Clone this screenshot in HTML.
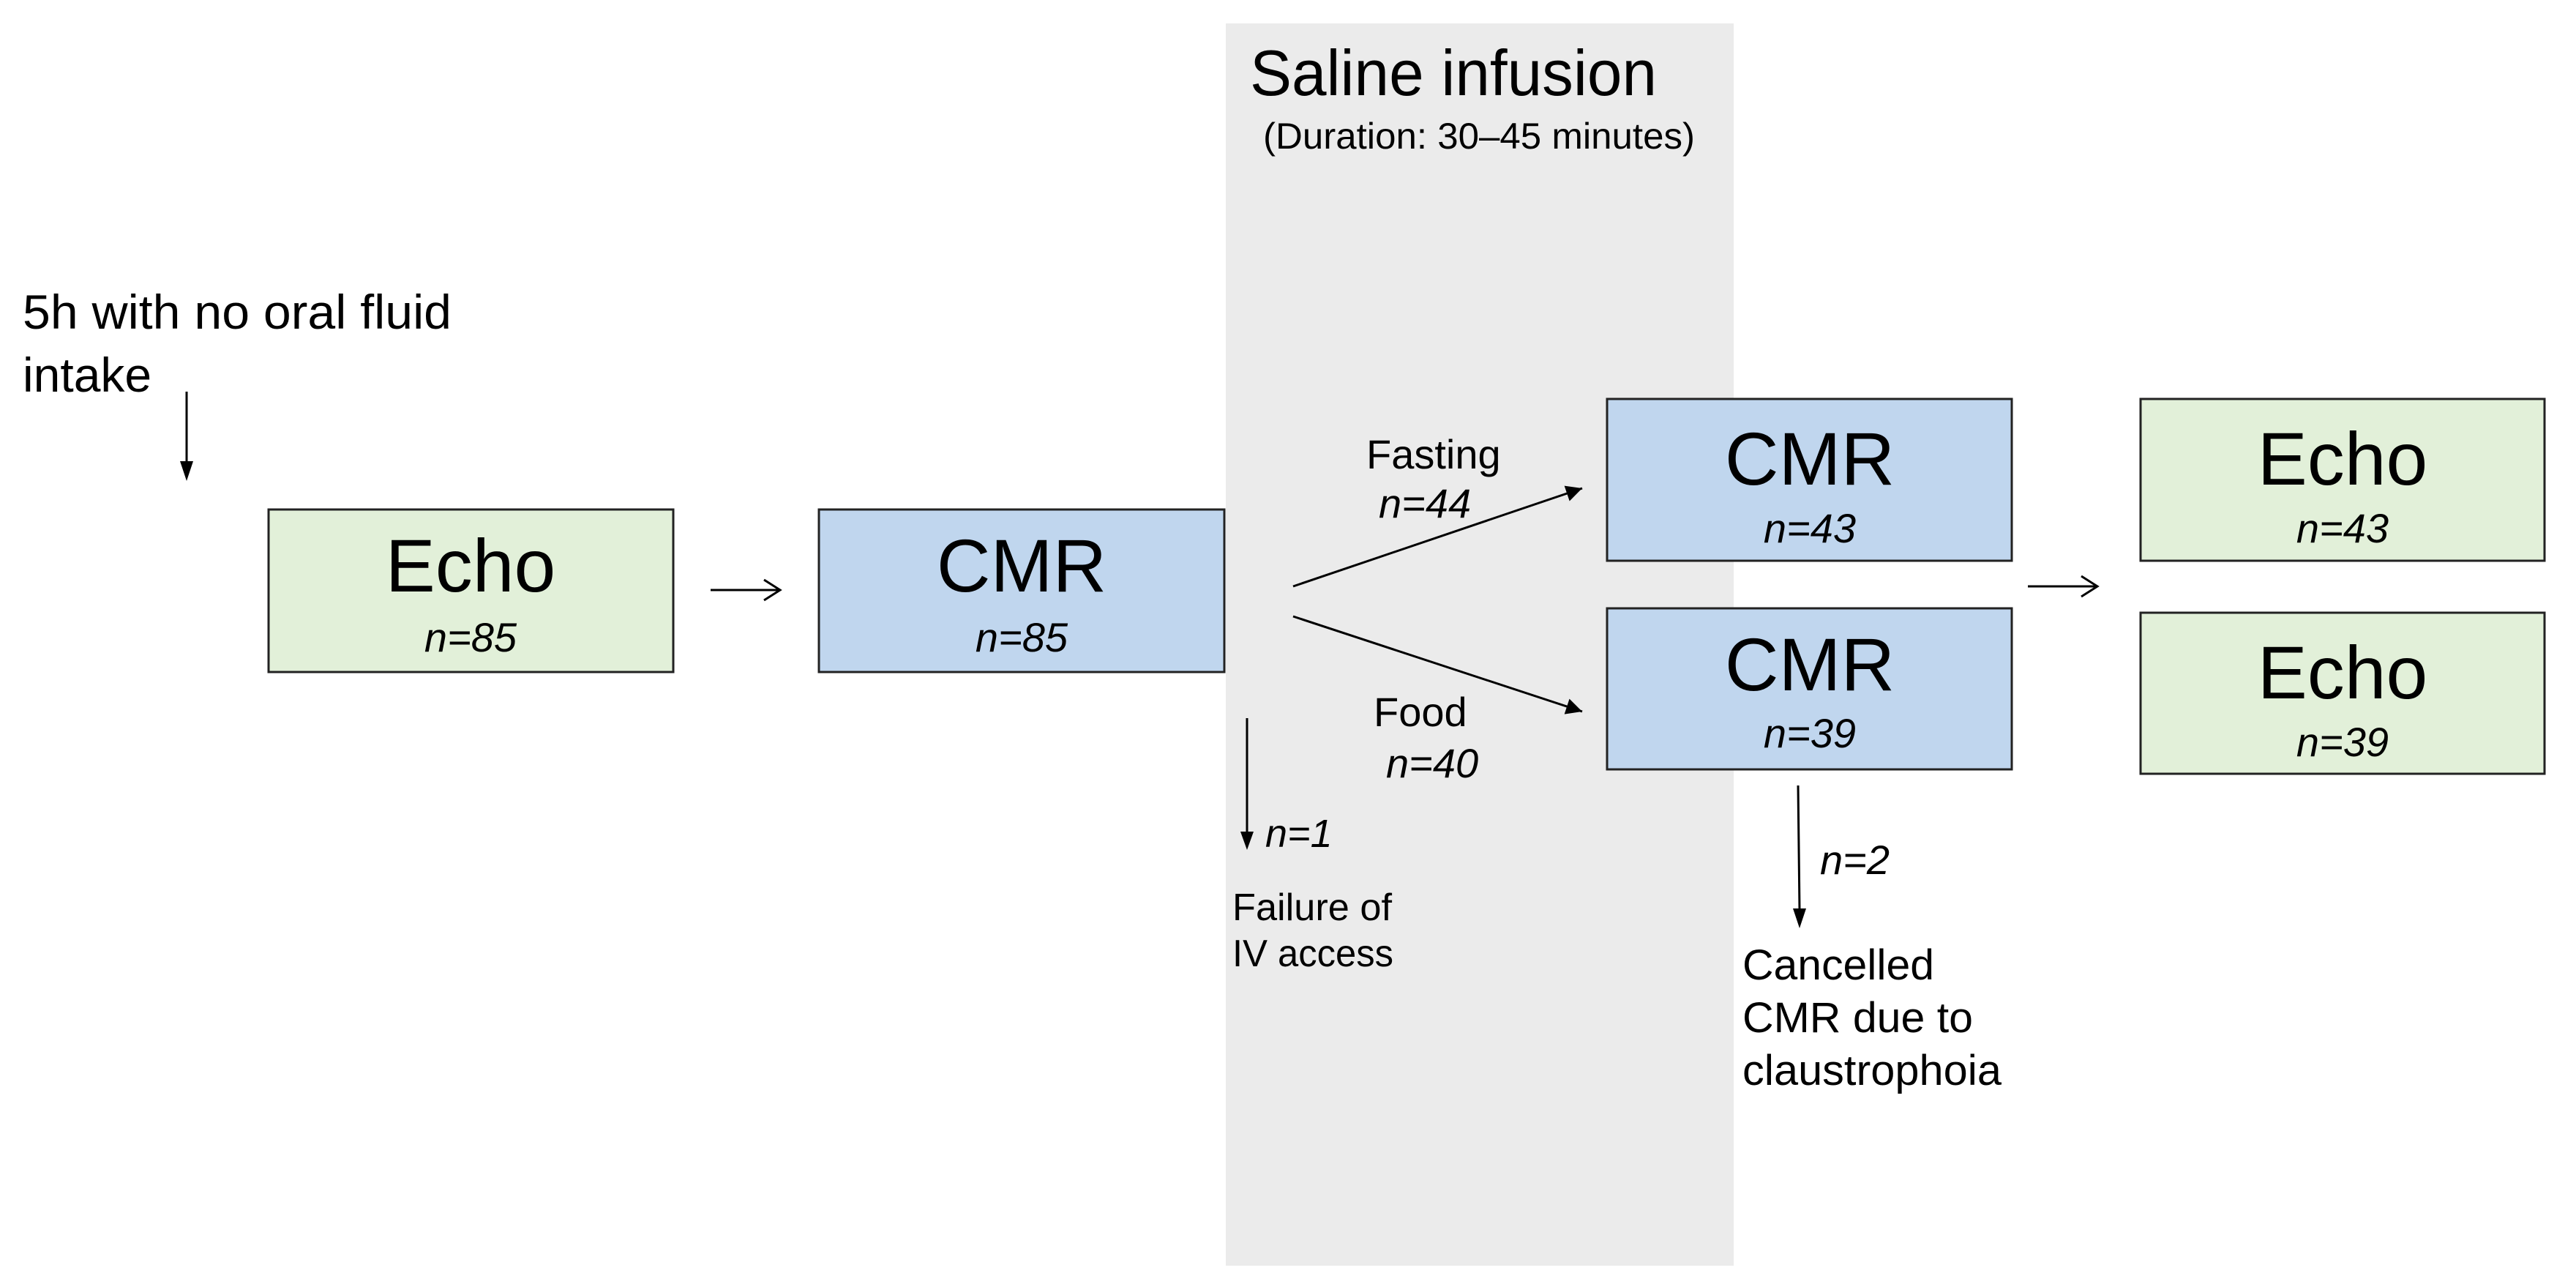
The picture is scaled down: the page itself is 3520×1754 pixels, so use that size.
<!DOCTYPE html>
<html><head><meta charset="utf-8"><style>
html,body{margin:0;padding:0;background:#fff;}
svg{display:block;}
text{font-family:"Liberation Sans",Arial,sans-serif;fill:#000;}
.i{font-style:italic;}
</style></head><body>
<svg width="3520" height="1754" viewBox="0 0 3520 1754" xmlns="http://www.w3.org/2000/svg">
<defs>
<marker id="b" viewBox="0 0 10 10" refX="10" refY="5" markerWidth="26" markerHeight="22" markerUnits="userSpaceOnUse" orient="auto"><path d="M0,0 L10,5 L0,10 z"/></marker>
</defs>
<rect x="1675" y="32" width="694" height="1697" fill="#ebebeb"/>
<text x="1708" y="130" font-size="88" textLength="556" lengthAdjust="spacingAndGlyphs">Saline infusion</text>
<text x="1726" y="203" font-size="50" textLength="590" lengthAdjust="spacingAndGlyphs">(Duration: 30–45 minutes)</text>

<text x="31" y="449" font-size="66" textLength="586" lengthAdjust="spacingAndGlyphs">5h with no oral fluid</text>
<text x="31" y="535" font-size="66">intake</text>
<line x1="255" y1="535" x2="255" y2="632" stroke="#000" stroke-width="3"/>
<path d="M246,630 L264,630 L255,657 z"/>

<rect x="367" y="696" width="553" height="222" fill="#e2f0d9" stroke="#222" stroke-width="3"/>
<text x="643" y="808" font-size="102" text-anchor="middle">Echo</text>
<text x="643" y="890" font-size="56" class="i" text-anchor="middle">n=85</text>

<line x1="971" y1="806" x2="1064" y2="806" stroke="#000" stroke-width="3"/>
<path d="M1044,792 L1066,806 L1044,820" fill="none" stroke="#000" stroke-width="3"/>

<rect x="1119" y="696" width="554" height="222" fill="#c0d6ee" stroke="#222" stroke-width="3"/>
<text x="1396" y="808" font-size="102" text-anchor="middle">CMR</text>
<text x="1396" y="890" font-size="56" class="i" text-anchor="middle">n=85</text>

<line x1="1767" y1="801" x2="2162" y2="667" stroke="#000" stroke-width="3" marker-end="url(#b)"/>
<line x1="1767" y1="842" x2="2162" y2="972" stroke="#000" stroke-width="3" marker-end="url(#b)"/>
<text x="1867" y="640" font-size="56">Fasting</text>
<text x="1884" y="707" font-size="56" class="i">n=44</text>
<text x="1877" y="992" font-size="56">Food</text>
<text x="1894" y="1062" font-size="56" class="i">n=40</text>

<line x1="1704" y1="981" x2="1704" y2="1138" stroke="#000" stroke-width="3"/>
<path d="M1695,1136 L1713,1136 L1704,1161 z"/>
<text x="1729" y="1157" font-size="54" class="i">n=1</text>
<text x="1684" y="1257" font-size="52" textLength="218" lengthAdjust="spacingAndGlyphs">Failure of</text>
<text x="1684" y="1320" font-size="52" textLength="220" lengthAdjust="spacingAndGlyphs">IV access</text>

<rect x="2196" y="545" width="553" height="221" fill="#c0d6ee" stroke="#222" stroke-width="3"/>
<text x="2473" y="662" font-size="102" text-anchor="middle">CMR</text>
<text x="2473" y="741" font-size="56" class="i" text-anchor="middle">n=43</text>
<rect x="2196" y="831" width="553" height="220" fill="#c0d6ee" stroke="#222" stroke-width="3"/>
<text x="2473" y="943" font-size="102" text-anchor="middle">CMR</text>
<text x="2473" y="1021" font-size="56" class="i" text-anchor="middle">n=39</text>

<line x1="2457" y1="1073" x2="2459" y2="1243" stroke="#000" stroke-width="3"/>
<path d="M2450,1241 L2468,1241 L2459,1268 z"/>
<text x="2487" y="1194" font-size="56" class="i">n=2</text>
<text x="2381" y="1338" font-size="58" textLength="262" lengthAdjust="spacingAndGlyphs">Cancelled</text>
<text x="2381" y="1410" font-size="58" textLength="315" lengthAdjust="spacingAndGlyphs">CMR due to</text>
<text x="2381" y="1482" font-size="58" textLength="354" lengthAdjust="spacingAndGlyphs">claustrophoia</text>

<line x1="2771" y1="801" x2="2864" y2="801" stroke="#000" stroke-width="3"/>
<path d="M2844,787 L2866,801 L2844,815" fill="none" stroke="#000" stroke-width="3"/>

<rect x="2925" y="545" width="552" height="221" fill="#e2f0d9" stroke="#222" stroke-width="3"/>
<text x="3201" y="662" font-size="102" text-anchor="middle">Echo</text>
<text x="3201" y="741" font-size="56" class="i" text-anchor="middle">n=43</text>
<rect x="2925" y="837" width="552" height="220" fill="#e2f0d9" stroke="#222" stroke-width="3"/>
<text x="3201" y="954" font-size="102" text-anchor="middle">Echo</text>
<text x="3201" y="1033" font-size="56" class="i" text-anchor="middle">n=39</text>
</svg>
</body></html>
